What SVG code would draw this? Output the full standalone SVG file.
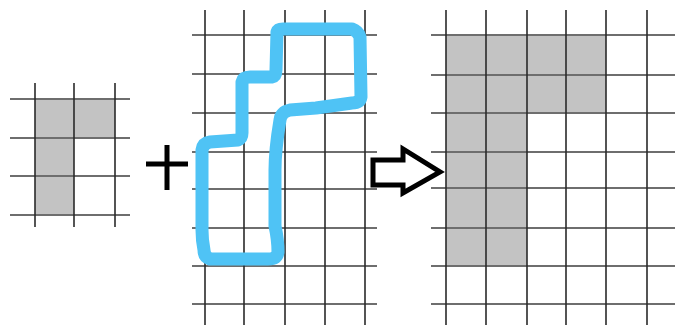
<svg xmlns="http://www.w3.org/2000/svg" width="675" height="325" viewBox="0 0 675 325">
  <style>
    .cell { fill: #c3c3c3; }
    .v { stroke: #2a2a2a; stroke-width: 1.6; }
    .h { stroke: #6e6e6e; stroke-width: 1.8; }
    .ink { fill: none; stroke: #000; stroke-linejoin: miter; }
    .stroke { fill: none; stroke: #4fc3f5; stroke-width: 13; stroke-linejoin: round; stroke-linecap: round; }
  </style>
  <rect width="675" height="325" fill="#fff"/>

  <!-- small grid with an L-shaped block -->
  <g id="small-grid">
    <rect class="cell" x="35" y="99" width="80" height="39"/>
    <rect class="cell" x="35" y="138" width="39" height="77"/>
    <line class="h" x1="10" y1="99" x2="130" y2="99"/>
    <line class="h" x1="10" y1="138" x2="130" y2="138"/>
    <line class="h" x1="10" y1="176" x2="130" y2="176"/>
    <line class="h" x1="10" y1="215" x2="130" y2="215" stroke="#999"/>
    <line class="v" x1="35" y1="83" x2="35" y2="227"/>
    <line class="v" x1="74" y1="83" x2="74" y2="227"/>
    <line class="v" x1="115" y1="83" x2="115" y2="227"/>
  </g>

  <!-- plus sign -->
  <g id="plus">
    <path class="ink" stroke-width="5" d="M146 164 H188 M167 145 V190"/>
  </g>

  <!-- middle grid with a hand-drawn outline -->
  <g id="outline-grid">
    <line class="h" x1="192" y1="35" x2="377" y2="35"/>
    <line class="h" x1="192" y1="74" x2="377" y2="74"/>
    <line class="h" x1="192" y1="113" x2="377" y2="113"/>
    <line class="h" x1="192" y1="152" x2="377" y2="152" stroke="#999"/>
    <line class="h" x1="192" y1="189" x2="377" y2="189"/>
    <line class="h" x1="192" y1="228" x2="377" y2="228"/>
    <line class="h" x1="192" y1="266" x2="377" y2="266"/>
    <line class="h" x1="192" y1="304" x2="377" y2="304"/>
    <line class="v" x1="205" y1="10" x2="205" y2="325"/>
    <line class="v" x1="244" y1="10" x2="244" y2="325"/>
    <line class="v" x1="285" y1="10" x2="285" y2="325"/>
    <line class="v" x1="325" y1="10" x2="325" y2="325"/>
    <line class="v" x1="365" y1="10" x2="365" y2="325"/>
    <path class="stroke" d="M277 32 Q278 29 283 29 L352 29 Q358 31 360 37 L361 97 Q360 103 352 103 Q330 106 316 108 L290 110 Q281 112 280 120 Q275 150 275 170 L275 226 Q278 240 278 252 Q277 259 268 259 L210 259 Q204 257 204 250 Q202 240 202 230 L202 150 Q203 143 210 142 L238 140 Q242 138 242 133 L242 82 Q243 77 250 77 L272 77 Q276 76 276 70 Z"/>
  </g>

  <!-- outlined arrow -->
  <g id="arrow">
    <path class="ink" stroke-width="5" d="M373 160 H403 V149 L440 172 L403 193 V185 H373 Z"/>
  </g>

  <!-- result grid with the filled block -->
  <g id="result-grid">
    <rect class="cell" x="446" y="35" width="160" height="78"/>
    <rect class="cell" x="446" y="113" width="81" height="153"/>
    <line class="h" x1="431" y1="35" x2="675" y2="35"/>
    <line class="h" x1="431" y1="75" x2="675" y2="75"/>
    <line class="h" x1="431" y1="113" x2="675" y2="113"/>
    <line class="h" x1="431" y1="152" x2="675" y2="152" stroke="#999"/>
    <line class="h" x1="431" y1="188" x2="675" y2="188"/>
    <line class="h" x1="431" y1="228" x2="675" y2="228"/>
    <line class="h" x1="431" y1="266" x2="675" y2="266"/>
    <line class="h" x1="431" y1="304" x2="675" y2="304" stroke="#999"/>
    <line class="v" x1="446" y1="10" x2="446" y2="325"/>
    <line class="v" x1="486" y1="10" x2="486" y2="325"/>
    <line class="v" x1="527" y1="10" x2="527" y2="325"/>
    <line class="v" x1="566" y1="10" x2="566" y2="325"/>
    <line class="v" x1="606" y1="10" x2="606" y2="325"/>
    <line class="v" x1="647" y1="10" x2="647" y2="325"/>
  </g>
</svg>
